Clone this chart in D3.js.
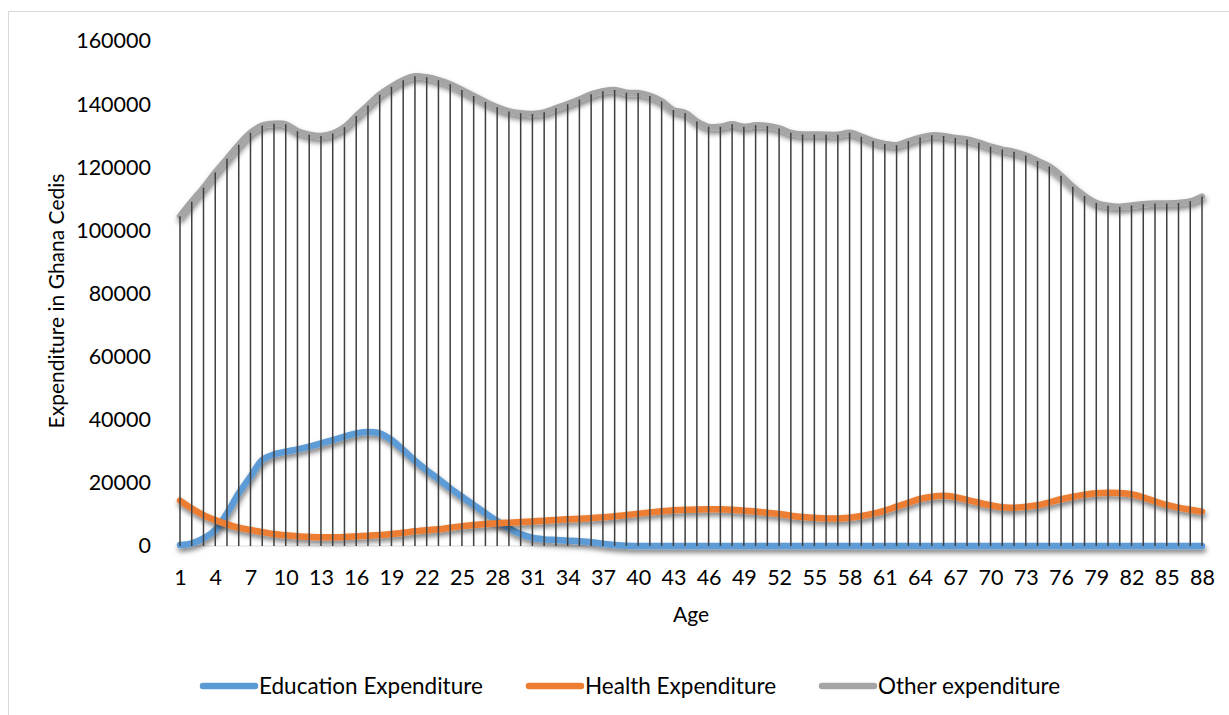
<!DOCTYPE html>
<html>
<head>
<meta charset="utf-8">
<script src="https://cdn.jsdelivr.net/npm/d3@7"></script>
<style>
  html, body { margin: 0; padding: 0; background: #fff; }
  svg { display: block; font-family: Lato, "Open Sans", sans-serif; }
</style>
</head>
<body>
<svg id="chart" width="1229" height="715"></svg>
<script>
// Age groups 1..88
const ages = d3.range(1, 89);

// Annual expenditure by age (Ghana Cedis)
const education = [
  300, 840, 2430, 5070, 10350, 16690, 21960, 27240, 29040, 29880,
  30630, 31460, 32540, 33580, 34630, 35700, 36120, 35700, 33580, 30400,
  27000, 24000, 21200, 18300, 15600, 13000, 10400, 7900, 5600, 3800,
  2600, 2100, 1900, 1700, 1500, 1200, 700, 300, 100, 0,
  0, 0, 0, 0, 0, 0, 0, 0, 0, 0,
  0, 0, 0, 0, 0, 0, 0, 0, 0, 0,
  0, 0, 0, 0, 0, 0, 0, 0, 0, 0,
  0, 0, 0, 0, 0, 0, 0, 0, 0, 0,
  0, 0, 0, 0, 0, 0, 0, 0
];
const health = [
  14400, 11900, 9800, 8200, 6900, 5800, 5100, 4400, 3800, 3400,
  3100, 2900, 2750, 2750, 2850, 3050, 3250, 3500, 3800, 4200,
  4650, 5000, 5300, 5800, 6300, 6650, 6950, 7200, 7400, 7600,
  7800, 8000, 8250, 8450, 8650, 8850, 9100, 9400, 9800, 10250,
  10650, 11000, 11300, 11500, 11600, 11650, 11650, 11500, 11200, 10900,
  10550, 10150, 9600, 9200, 8950, 8750, 8750, 8950, 9500, 10250,
  11200, 12450, 13700, 14900, 15600, 15900, 15500, 14600, 13700, 12900,
  12250, 12150, 12450, 12900, 13850, 14800, 15600, 16250, 16700, 16900,
  16800, 16400, 15400, 14150, 13000, 12150, 11500, 10900
];
const other = [
  104500, 109100, 113500, 118300, 122700, 127100, 130900, 133200, 133800, 133600,
  131400, 130300, 129900, 130700, 132700, 136200, 139600, 143000, 145500, 147600,
  148800, 148500, 147600, 146300, 144500, 142600, 140700, 139000, 137700, 137100,
  136900, 137400, 138700, 140000, 141500, 143100, 144100, 144500, 143600, 143500,
  142600, 140900, 138100, 137200, 134500, 132800, 132800, 133600, 132800, 133300,
  133100, 132300, 130900, 130400, 130400, 130300, 130300, 130900, 129700, 128300,
  127400, 127000, 128200, 129400, 130100, 129900, 129300, 128800, 127800, 126500,
  125600, 124900, 123700, 122000, 120200, 117300, 113800, 110900, 108700, 107800,
  107500, 107900, 108300, 108500, 108500, 108700, 109200, 110700
];

const seriesNames = ["Education Expenditure", "Health Expenditure", "Other expenditure"];
const seriesColors = ["#5B9BD5", "#ED7D31", "#A5A5A5"];
const yTicks = d3.range(0, 160001, 20000);
const xTicks = d3.range(1, 89, 3);

const svg = d3.select("#chart");

// chart-area frame
svg.append("rect")
  .attr("x", 8.5).attr("y", 11.5)
  .attr("width", 1240).attr("height", 720)
  .attr("fill", "#fff").attr("stroke", "#D9D9D9").attr("stroke-width", 1);

// soft drop shadow under each series line
const defs = svg.append("defs");
const f = defs.append("filter").attr("id", "shadow")
  .attr("filterUnits", "userSpaceOnUse")
  .attr("x", 0).attr("y", 0).attr("width", 1229).attr("height", 715);
f.append("feDropShadow")
  .attr("dx", 1).attr("dy", 3.5).attr("stdDeviation", 2.6)
  .attr("flood-color", "#000").attr("flood-opacity", 0.5);

const x = d3.scaleLinear().domain([1, 88]).range([180, 1202]);
const y = d3.scaleLinear().domain([0, 160000]).range([546, 41]);

// category axis line
svg.append("line")
  .attr("x1", x(1)).attr("x2", x(88))
  .attr("y1", y(0)).attr("y2", y(0))
  .attr("stroke", "#D9D9D9").attr("stroke-width", 1);

// series lines
const series = [education, health, other];
const line = d3.line()
  .x((d, i) => x(ages[i]))
  .y(d => y(d))
  .curve(d3.curveCatmullRom.alpha(0.5));

series.forEach((vals, k) => {
  svg.append("path")
    .datum(vals)
    .attr("d", line)
    .attr("fill", "none")
    .attr("stroke", seriesColors[k])
    .attr("stroke-width", 6.5)
    .attr("stroke-linecap", "round")
    .attr("stroke-linejoin", "round")
    .attr("filter", "url(#shadow)");
});

// drop lines from the highest series value to the axis
const tops = ages.map((a, i) => Math.max(education[i], health[i], other[i]));
svg.append("g").selectAll("line")
  .data(ages)
  .join("line")
  .attr("x1", d => x(d)).attr("x2", d => x(d))
  .attr("y1", y(0))
  .attr("y2", (d, i) => y(tops[i]))
  .attr("stroke", "#3F3F3F")
  .attr("stroke-width", 1.5);

// axes
const yAxis = svg.append("g")
  .attr("transform", `translate(${x(1)},0)`)
  .call(d3.axisLeft(y).tickValues(yTicks).tickSize(0).tickPadding(29).tickFormat(d3.format("d")));
yAxis.select(".domain").remove();
yAxis.selectAll("text").attr("font-size", 21.5).attr("fill", "#000")
  .attr("font-family", "Lato, sans-serif");

const xAxis = svg.append("g")
  .attr("transform", `translate(0,${y(0)})`)
  .call(d3.axisBottom(x).tickValues(xTicks).tickSize(0).tickPadding(24).tickFormat(d3.format("d")));
xAxis.select(".domain").remove();
xAxis.selectAll("text").attr("font-size", 21.5).attr("fill", "#000")
  .attr("font-family", "Lato, sans-serif");

// axis titles
svg.append("text")
  .attr("x", 691).attr("y", 622)
  .attr("text-anchor", "middle")
  .attr("font-size", 21).attr("fill", "#000")
  .text("Age");

svg.append("text")
  .attr("transform", "translate(64,301) rotate(-90)")
  .attr("text-anchor", "middle")
  .attr("font-size", 21).attr("fill", "#000")
  .text("Expenditure in Ghana Cedis");

// legend
const legendX = [200, 526, 819];
const legend = svg.append("g");
seriesNames.forEach((name, k) => {
  const g = legend.append("g").attr("transform", `translate(${legendX[k]},686)`);
  g.append("line")
    .attr("x1", 3).attr("x2", 55).attr("y1", 0).attr("y2", 0)
    .attr("stroke", seriesColors[k]).attr("stroke-width", 6.5)
    .attr("stroke-linecap", "round");
  g.append("text")
    .attr("x", 59).attr("y", 0)
    .attr("dy", "0.35em")
    .attr("font-size", 22.5).attr("fill", "#000")
    .text(name);
});
</script>
</body>
</html>
